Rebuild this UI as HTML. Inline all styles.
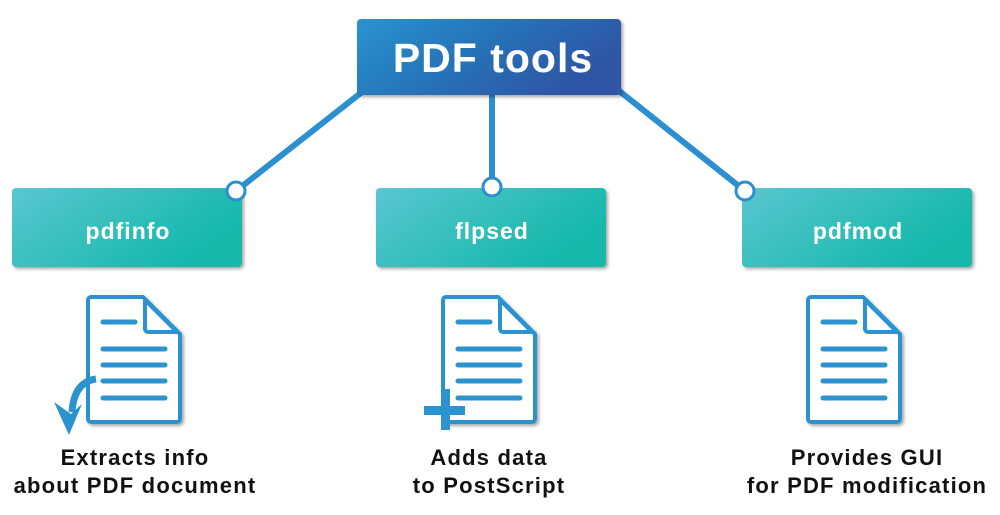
<!DOCTYPE html>
<html><head><meta charset="utf-8"><style>
html,body{margin:0;padding:0;background:#fff;width:1000px;height:515px;overflow:hidden}
svg{display:block}
text{font-family:"Liberation Sans","DejaVu Sans",sans-serif;font-weight:bold}
</style></head><body>
<svg width="1000" height="515" viewBox="0 0 1000 515">
<defs>
<linearGradient id="gt" x1="0" y1="0" x2="1" y2="0.4">
<stop offset="0" stop-color="#2a93d0"/><stop offset="0.5" stop-color="#2674b8"/><stop offset="1" stop-color="#2f55a6"/></linearGradient>
<linearGradient id="gb" x1="0" y1="0" x2="1" y2="0.5">
<stop offset="0" stop-color="#5ac6cf"/><stop offset="1" stop-color="#13b8aa"/></linearGradient>
<filter id="sh" x="-10%" y="-10%" width="130%" height="130%"><feDropShadow dx="2" dy="2" stdDeviation="1.5" flood-color="#000" flood-opacity="0.35"/></filter>
<g id="doc">
<path d="M3,0 H55 L92,37 V122 a3,3 0 0 1 -3,3 H3 a3,3 0 0 1 -3,-3 V3 a3,3 0 0 1 3,-3Z" fill="#fff" stroke="#2b93cf" stroke-width="4" stroke-linejoin="round" filter="url(#sh)"/>
<path d="M57,3 V32 a3,3 0 0 0 3,3 H89 Z" fill="#fff" stroke="#2b93cf" stroke-width="4" stroke-linejoin="round"/>
<g stroke="#2b93cf" stroke-width="5" stroke-linecap="round">
<line x1="15" y1="25" x2="47" y2="25"/>
<line x1="15" y1="52" x2="77" y2="52"/>
<line x1="15" y1="68" x2="77" y2="68"/>
<line x1="15" y1="84" x2="77" y2="84"/>
<line x1="15" y1="101" x2="77" y2="101"/>
</g>
</g>
</defs>
<g stroke="#2b8fd0" stroke-width="6">
<line x1="362" y1="92" x2="236" y2="191"/>
<line x1="492" y1="95" x2="492" y2="187"/>
<line x1="618" y1="90" x2="745" y2="191"/>
</g>
<rect x="357" y="19" width="264" height="76" rx="4" fill="url(#gt)" filter="url(#sh)"/>
<text x="493" y="72" text-anchor="middle" font-size="41" letter-spacing="1" fill="#fff">PDF tools</text>
<rect x="12" y="188" width="230" height="79" rx="4" fill="url(#gb)" filter="url(#sh)"/>
<rect x="376" y="188" width="230" height="79" rx="4" fill="url(#gb)" filter="url(#sh)"/>
<rect x="742" y="188" width="230" height="79" rx="4" fill="url(#gb)" filter="url(#sh)"/>
<g font-size="23" fill="#fff" text-anchor="middle" letter-spacing="1">
<text x="128" y="239">pdfinfo</text>
<text x="492" y="239">flpsed</text>
<text x="858" y="239">pdfmod</text>
</g>
<g fill="#fff" stroke="#2b8fd0" stroke-width="3">
<circle cx="236" cy="191" r="9"/><circle cx="492" cy="187" r="9"/><circle cx="745" cy="191" r="9"/>
</g>
<use href="#doc" x="88" y="297"/>
<use href="#doc" x="443" y="297"/>
<use href="#doc" x="808" y="297"/>
<path d="M96,379 Q74,382 72,412" fill="none" stroke="#2b93cf" stroke-width="7"/>
<path d="M54,402 L69,435 L82,404 L71,414 Z" fill="#2b93cf"/>
<rect x="441" y="389" width="9" height="41" fill="#2b93cf"/>
<rect x="424" y="406" width="41" height="9" fill="#2b93cf"/>
<g font-size="22" fill="#111" text-anchor="middle" letter-spacing="1.2">
<text x="135" y="465">Extracts info</text>
<text x="135" y="493">about PDF document</text>
<text x="489" y="465">Adds data</text>
<text x="489" y="493">to PostScript</text>
<text x="867" y="465">Provides GUI</text>
<text x="867" y="493">for PDF modification</text>
</g>
</svg>
</body></html>
